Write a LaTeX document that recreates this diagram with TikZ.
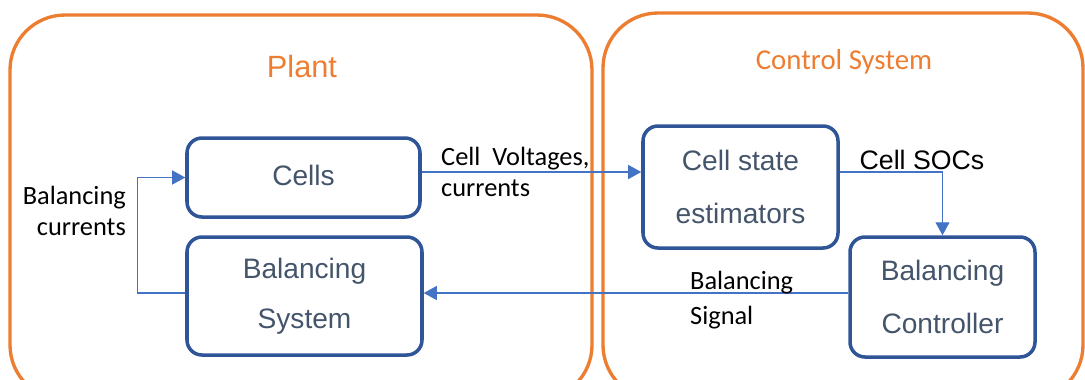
\documentclass[tikz,border=0pt]{standalone}
\usepackage{fontspec}
\setmainfont{Liberation Sans}
\newfontfamily\labelfont{Carlito}
\usetikzlibrary{arrows.meta}
\definecolor{plantorange}{HTML}{ED7D31}
\definecolor{boxblue}{HTML}{2F5597}
\definecolor{boxtext}{HTML}{44546A}
\definecolor{flowblue}{HTML}{4472C4}
\tikzset{
	group/.style={draw=plantorange,line width=1.9pt,rounded corners=1.1cm},
	block/.style={draw=boxblue,line width=2pt,rounded corners=0.3cm,text=boxtext,align=center,font=\fontsize{16}{30}\selectfont},
	flow/.style={draw=flowblue,line width=0.7pt,-{Triangle[length=2.6mm,width=2.8mm]}},
	sig/.style={font=\labelfont\fontsize{15}{18}\selectfont}
}

\begin{document}
\begin{tikzpicture}
	\useasboundingbox (0,0) rectangle (21.7,-7.58);
	%GROUPS
	\draw[group] (0.2,-0.3) rectangle (11.84,-8.0);
	\draw[group] (12.06,-0.26) rectangle (21.66,-8.0);
	\node[text=plantorange,font=\fontsize{17.5}{20}\selectfont] (plant) at (6.04,-1.32) {Plant};
	\node[text=plantorange,font=\labelfont\fontsize{16.4}{20}\selectfont] (ctrl) at (16.88,-1.24) {Control System};
	
	%BLOCKS
	\node[block,minimum width=4.66cm,minimum height=1.58cm] (cells) at (6.07,-3.55) {\raisebox{0.1cm}{Cells}};
	\node[block,minimum width=4.7cm,minimum height=2.36cm] (bs) at (6.09,-5.92) {\raisebox{-0.06cm}{Balancing}\\System};
	\node[block,minimum width=3.9cm,minimum height=2.44cm] (cse) at (14.81,-3.74) {Cell state\\estimators};
	\node[block,minimum width=3.7cm,minimum height=2.4cm] (bc) at (18.85,-5.94) {Balancing\\Controller};
	
	%CONNECTORS
	\coordinate (meas) at (0,-3.44);
	\coordinate (cmd) at (0,-5.86);
	\draw[flow] (cells.east |- meas) -- (cse.west |- meas);
	\draw[flow] (cse.east |- meas) -| (bc.north);
	\draw[flow] (bc.west |- cmd) -- (bs.east |- cmd);
	\draw[flow] (bs.west |- cmd) -- ++(-0.96,0) |- (cells.west);
	
	%LABELS
	\node[sig,anchor=east,align=right] (bcur) at (2.64,-4.22) {Balancing\\currents};
	\node[sig,anchor=west,align=left] (cv) at (8.7,-3.44) {Cell~~Voltages,\\currents};
	\node[font=\fontsize{15.2}{18}\selectfont] (soc) at (18.44,-3.2) {Cell SOCs};
	\node[sig,anchor=west,align=left,font=\labelfont\fontsize{15}{20}\selectfont] (bsig) at (13.68,-6.0) {Balancing\\Signal};
\end{tikzpicture}
\end{document}
